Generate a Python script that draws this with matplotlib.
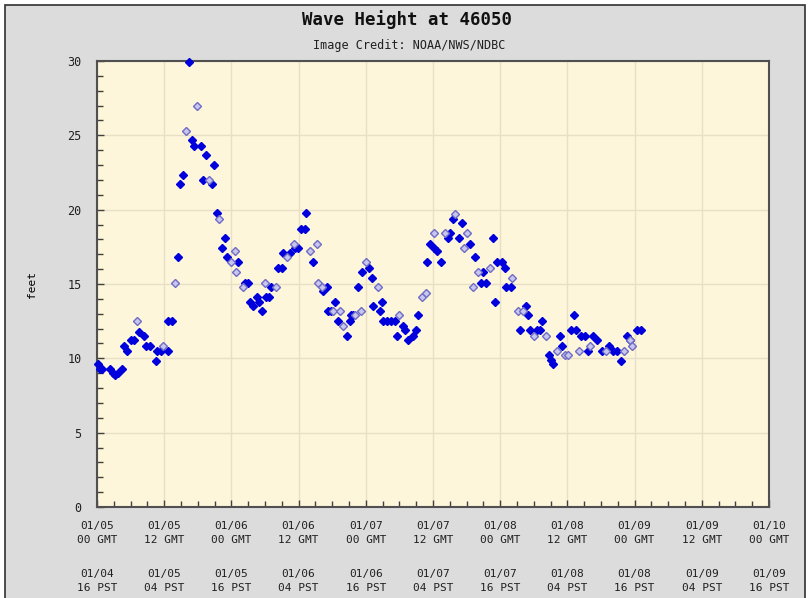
import matplotlib
matplotlib.use("Agg")
import matplotlib.pyplot as plt
from matplotlib.patches import Rectangle
from matplotlib.ticker import MultipleLocator

# hours after 01/05 00 GMT and wave height (feet)
solid_hours = [
    0.2, 0.5, 0.9, 2.3, 2.9, 3.2, 3.8, 4.5, 4.9, 5.4, 6.1, 6.6, 7.5, 8.4, 8.8,
    9.5, 10.5, 10.8, 11.4, 12.6, 12.7, 13.4, 14.5, 14.9, 15.3, 16.5, 16.9, 17.4,
    18.5, 18.9, 19.4, 20.5, 20.9, 21.4, 22.4, 22.9, 23.3, 25.2, 26.4, 27.0, 27.3,
    27.9, 28.5, 29.0, 29.4, 30.2, 30.7, 31.0, 32.3, 33.0, 33.3, 34.5, 35.4, 35.9,
    36.5, 37.1, 37.4, 38.6, 40.4, 41.0, 41.3, 41.7, 42.5, 43.1, 44.6, 45.1, 45.4,
    45.7, 46.6, 47.4, 48.6, 49.1, 49.3, 50.5, 50.9, 51.1, 51.8, 52.5, 53.2, 53.5,
    54.7, 55.0, 55.5, 56.4, 57.0, 57.4, 59.0, 59.5, 60.2, 60.7, 61.4, 62.6, 63.0,
    63.5, 64.7, 65.1, 66.6, 67.5, 68.6, 69.0, 69.5, 70.7, 71.1, 71.4, 72.3, 72.9,
    73.0, 73.9, 75.5, 76.6, 77.0, 77.4, 78.5, 79.1, 79.5, 80.8, 81.1, 81.4, 82.6,
    83.1, 84.6, 85.1, 85.5, 86.4, 87.2, 87.6, 88.6, 89.2, 90.1, 91.5, 92.1, 92.8,
    93.6, 94.6, 95.2, 96.4, 97.1,
]
solid_feet = [
    9.6, 9.3, 9.3, 9.3, 9.0, 8.9, 9.0, 9.3, 10.8, 10.5, 11.2, 11.2, 11.8, 11.5, 10.8,
    10.8, 9.8, 10.5, 10.5, 10.5, 12.5, 12.5, 16.8, 21.7, 22.3, 29.9, 24.7, 24.3,
    24.3, 22.0, 23.7, 21.7, 23.0, 19.75, 17.4, 18.1, 16.8, 16.5, 15.1, 15.1, 13.8,
    13.5, 14.1, 13.8, 13.2, 14.1, 14.1, 14.8, 16.1, 16.1, 17.1, 17.1, 17.4, 17.4,
    18.7, 18.7, 19.75, 16.5, 14.5, 14.8, 13.2, 13.2, 13.8, 12.5, 11.5, 12.5, 12.9,
    12.9, 14.8, 15.8, 16.1, 15.4, 13.5, 13.2, 13.8, 12.5, 12.5, 12.5, 12.5, 11.5,
    12.2, 11.9, 11.2, 11.5, 11.9, 12.9, 16.5, 17.7, 17.4, 17.2, 16.5, 18.1, 18.4,
    19.4, 18.1, 19.1, 17.7, 16.8, 15.1, 15.8, 15.1, 18.1, 13.8, 16.5, 16.5, 16.1,
    14.8, 14.8, 11.9, 13.5, 12.9, 11.9, 11.9, 11.9, 12.5, 10.2, 9.9, 9.6, 11.5,
    10.8, 11.9, 12.9, 11.9, 11.5, 11.5, 10.5, 11.5, 11.2, 10.5, 10.8, 10.5, 10.5,
    9.8, 11.5, 11.2, 11.9, 11.9,
]

light_hours = [
    7.1, 11.8, 13.9, 15.9, 17.9, 20.0, 21.8, 23.9, 24.6, 24.9, 26.0, 30.0, 32.0,
    34.0, 35.1, 38.0, 39.2, 39.5, 40.1, 42.1, 43.4, 44.0, 46.1, 47.1, 48.0, 50.1,
    54.0, 58.0, 58.8, 60.1, 62.1, 63.9, 65.5, 66.0, 67.1, 68.1, 70.2, 74.1, 75.2,
    76.1, 78.0, 80.1, 82.1, 83.6, 84.1, 86.1, 88.1, 90.9, 94.1, 95.2, 95.5,
]
light_feet = [
    12.5, 10.8, 15.1, 25.3, 27.0, 22.0, 19.4, 16.5, 17.2, 15.8, 14.8, 15.1, 14.8,
    16.8, 17.7, 17.2, 17.7, 15.1, 14.8, 13.2, 13.2, 12.2, 12.9, 13.2, 16.5, 14.8,
    12.9, 14.1, 14.4, 18.4, 18.4, 19.7, 17.4, 18.4, 14.8, 15.8, 16.1, 15.4, 13.2,
    13.2, 11.5, 11.5, 10.5, 10.2, 10.2, 10.5, 10.8, 10.5, 10.5, 11.2, 10.8,
]

tick_hours = [0, 12, 24, 36, 48, 60, 72, 84, 96, 108, 120]
gmt_labels = ["01/05\n00 GMT", "01/05\n12 GMT", "01/06\n00 GMT", "01/06\n12 GMT",
              "01/07\n00 GMT", "01/07\n12 GMT", "01/08\n00 GMT", "01/08\n12 GMT",
              "01/09\n00 GMT", "01/09\n12 GMT", "01/10\n00 GMT"]
pst_labels = ["01/04\n16 PST", "01/05\n04 PST", "01/05\n16 PST", "01/06\n04 PST",
              "01/06\n16 PST", "01/07\n04 PST", "01/07\n16 PST", "01/08\n04 PST",
              "01/08\n16 PST", "01/09\n04 PST", "01/09\n16 PST"]

FONT = "DejaVu Sans Mono"
W, H = 811, 598

fig = plt.figure(figsize=(W / 100, H / 100), dpi=100, facecolor="white")
fig.patches.append(Rectangle((5 / W, -0.01), 800 / W, 1 - 5 / H + 0.01,
                             transform=fig.transFigure, facecolor="#dcdcdc",
                             edgecolor="#303030", linewidth=1.2, zorder=-10))

ax = fig.add_axes([97 / W, 1 - 507 / H, 672 / W, 446 / H])
ax.set_facecolor("#fef6da")

ax.plot(solid_hours, solid_feet, linestyle="none", marker="D", markersize=4.0,
        markerfacecolor="#0000dd", markeredgecolor="#0000dd", zorder=3, clip_on=False)
ax.plot(light_hours, light_feet, linestyle="none", marker="D", markersize=3.6,
        markerfacecolor="#c8c6ee", markeredgecolor="#6e6cc4", markeredgewidth=1.0,
        zorder=3, clip_on=False)

ax.set_xlim(0, 120)
ax.set_ylim(0, 30)
ax.set_xticks(tick_hours)
ax.set_xticklabels(gmt_labels, fontfamily=FONT, fontsize=8, linespacing=1.5)
ax.xaxis.set_minor_locator(MultipleLocator(3))
ax.yaxis.set_major_locator(MultipleLocator(5))
ax.yaxis.set_minor_locator(MultipleLocator(1))
for lab in ax.get_yticklabels():
    lab.set_fontfamily(FONT)
    lab.set_fontsize(8.5)
ax.tick_params(which="both", direction="in", color="#404040", width=1)
ax.tick_params(which="major", length=5)
ax.tick_params(which="minor", length=4)
ax.tick_params(axis="x", which="major", pad=10, labelcolor="#202020")
ax.tick_params(axis="y", which="major", pad=11, labelcolor="#202020")

ax.grid(True, which="major", color="#e9dfc6", linewidth=1.0)
ax.set_axisbelow(True)
for side in ["left", "bottom", "top", "right"]:
    ax.spines[side].set_color("#505050")
    ax.spines[side].set_linewidth(1.5)

for h, lab in zip(tick_hours, pst_labels):
    ax.text(h, -0.14, lab, transform=ax.get_xaxis_transform(), ha="center", va="top",
            fontfamily=FONT, fontsize=8, linespacing=1.5, color="#202020")

ax.set_ylabel("feet", fontfamily=FONT, fontsize=8, labelpad=22)

fig.text(407 / W, 1 - 20 / H, "Wave Height at 46050", ha="center", va="center",
         fontfamily=FONT, fontsize=12.5, fontweight="bold", color="#111111")
fig.text(409 / W, 1 - 45 / H, "Image Credit: NOAA/NWS/NDBC", ha="center", va="center",
         fontfamily=FONT, fontsize=8.5, color="#202020")

fig.savefig("out.png", dpi=100, facecolor=fig.get_facecolor())
